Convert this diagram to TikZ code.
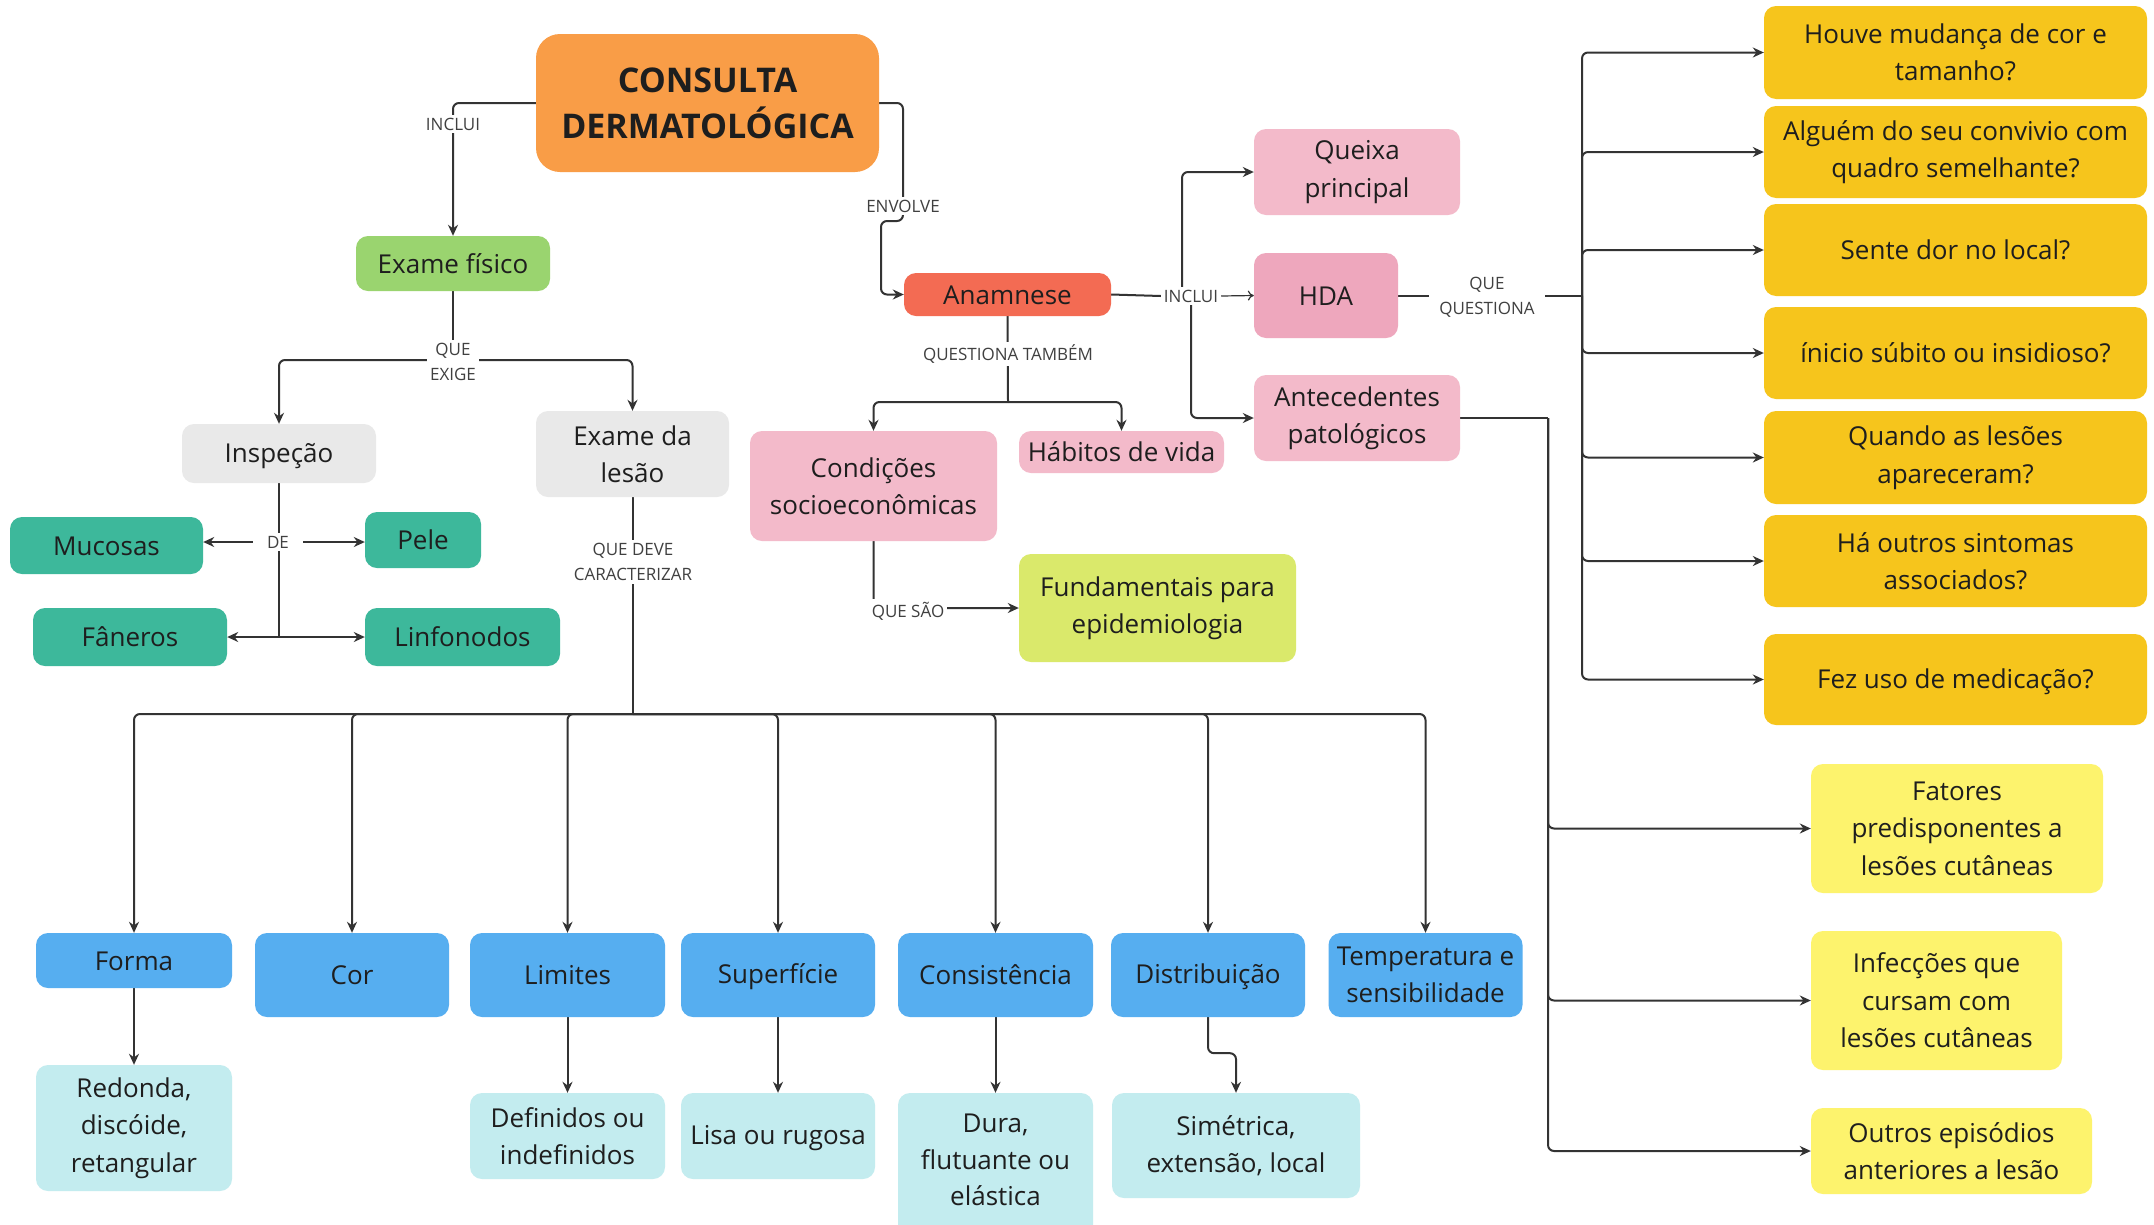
\documentclass[tikz,border=0pt]{standalone}
\usepackage{fontspec}
\setmainfont{Open Sans}
\usetikzlibrary{arrows.meta,calc}

\definecolor{cOrange}{HTML}{F99D47}
\definecolor{cGreen}{HTML}{9AD46F}
\definecolor{cGray}{HTML}{E9E9E9}
\definecolor{cTeal}{HTML}{3DB89B}
\definecolor{cAnam}{HTML}{F36B53}
\definecolor{cPinkL}{HTML}{F3BACA}
\definecolor{cPinkD}{HTML}{EEA7BD}
\definecolor{cLime}{HTML}{DAE96B}
\definecolor{cGold}{HTML}{F6C51C}
\definecolor{cLYel}{HTML}{FDF36D}
\definecolor{cBlue}{HTML}{56AEF0}
\definecolor{cCyan}{HTML}{C3ECEF}
\definecolor{cLine}{HTML}{333333}
\definecolor{cInk}{HTML}{1E1E1E}
\definecolor{cLbl}{HTML}{404040}

\pgfdeclarelayer{paper}
\pgfdeclarelayer{bg}
\pgfsetlayers{paper,bg,main}

% invisible strut that fixes the vertical placement of one-line box texts
\newcommand\bxstrut{\rule[-5pt]{0pt}{29pt}}

\tikzset{
  box/.style={rounded corners=12pt, inner sep=4pt, align=center,
    font=\fontsize{26}{37.5}\selectfont, text=cInk,
    execute at begin node=\bxstrut, execute at end node=\bxstrut},
  boxtext/.style={inner sep=0pt, align=center,
    font=\fontsize{26}{37.5}\selectfont, text=cInk},
  lbl/.style={fill=white, inner sep=3pt, align=center,
    font=\fontsize{17}{25}\selectfont, text=cLbl},
  wire/.style={draw=cLine, line width=2pt, rounded corners=6pt},
  conn/.style={wire, -{Stealth[length=11pt,width=10pt]}},
  thinarrow/.style={draw=cLine, line width=1.2pt, -{To[length=6pt,width=10pt]}},
}

% a box whose text runs over several lines: the shape, then its text centred on it
\newcommand\mlnode[4]{%
  \node[box,#1] (#2) at #3 {};
  \node[boxtext] (#2-t) at (#2.center) {#4};}

\begin{document}
\begin{tikzpicture}[x=1pt,y=-1pt]
\begin{pgfonlayer}{paper}
\fill[white] (0,0) rectangle (2154,1224);
\end{pgfonlayer}
\useasboundingbox (0,0) rectangle (2154,1224);

% ---------- central node ----------
\node[box, fill=cOrange, rounded corners=24pt, minimum width=343pt, minimum height=138pt] (cons) at (707.5,103) {};
\node[boxtext, font=\fontsize{34}{46}\selectfont\bfseries] (cons-t) at (cons.center) {CONSULTA\\DERMATOLÓGICA};

% ---------- physical examination branch ----------
\node[box, fill=cGreen, minimum width=194pt, minimum height=55pt] (exf) at (453,263.5) {Exame físico};
\node[box, fill=cGray, minimum width=194pt, minimum height=59pt] (insp) at (279,453.5) {Inspeção};
\mlnode{fill=cGray, minimum width=193pt, minimum height=86pt}{exl}{(632.5,454)}{Exame da\\lesão}
\node[box, fill=cTeal, minimum width=193pt, minimum height=57pt] (muc) at (106.5,545.5) {Mucosas};
\node[box, fill=cTeal, minimum width=116pt, minimum height=56pt] (pele) at (423,540) {Pele};
\node[box, fill=cTeal, minimum width=194pt, minimum height=58pt] (fan) at (130,637) {Fâneros};
\node[box, fill=cTeal, minimum width=195pt, minimum height=58pt] (linf) at (462.5,637) {Linfonodos};

% lesion characteristics
\node[box, fill=cBlue, minimum width=196pt, minimum height=55pt] (forma) at (134,960.5) {Forma};
\node[box, fill=cBlue, minimum width=194pt, minimum height=84pt] (cor) at (352,975) {Cor};
\node[box, fill=cBlue, minimum width=195pt, minimum height=84pt] (lim) at (567.5,975) {Limites};
\node[box, fill=cBlue, minimum width=194pt, minimum height=84pt] (sup) at (778,975) {Superfície};
\node[box, fill=cBlue, minimum width=195pt, minimum height=84pt] (cons2) at (995.5,975) {Consistência};
\node[box, fill=cBlue, minimum width=194pt, minimum height=84pt] (dist) at (1208,975) {Distribuição};
\mlnode{fill=cBlue, minimum width=194pt, minimum height=84pt}{temp}{(1425.5,975)}{Temperatura e\\sensibilidade}

\mlnode{fill=cCyan, minimum width=196pt, minimum height=126pt}{red}{(134,1128)}{Redonda,\\discóide,\\retangular}
\mlnode{fill=cCyan, minimum width=195pt, minimum height=86pt}{def}{(567.5,1136)}{Definidos ou\\indefinidos}
\node[box, fill=cCyan, minimum width=194pt, minimum height=86pt] (lisa) at (778,1136) {Lisa ou rugosa};
\node[box, fill=cCyan, minimum width=195pt, minimum height=147pt] (dura) at (995.5,1166.5) {};
\node[boxtext, font=\fontsize{26}{36.5}\selectfont] (dura-t) at (995.5,1160) {Dura,\\flutuante ou\\elástica};
\mlnode{fill=cCyan, minimum width=248pt, minimum height=105pt}{sim}{(1236,1145.5)}{Simétrica,\\extensão, local}

% ---------- anamnesis branch ----------
\node[box, fill=cAnam, minimum width=207pt, minimum height=43pt] (anam) at (1007.5,294.5) {Anamnese};
\mlnode{fill=cPinkL, minimum width=206pt, minimum height=86pt}{queixa}{(1357,172)}{Queixa\\principal}
\node[box, fill=cPinkD, minimum width=144pt, minimum height=85pt] (hda) at (1326,295.5) {HDA};
\mlnode{fill=cPinkL, minimum width=206pt, minimum height=86pt}{ant}{(1357,418)}{Antecedentes\\patológicos}
\mlnode{fill=cPinkL, minimum width=247pt, minimum height=110pt}{cond}{(873.5,486)}{Condições\\socioeconômicas}
\node[box, fill=cPinkL, minimum width=205pt, minimum height=42pt] (hab) at (1121.5,452) {Hábitos de vida};
\mlnode{fill=cLime, minimum width=277pt, minimum height=108pt}{fund}{(1157.5,608)}{Fundamentais para\\epidemiologia}

% questions about the current illness
\mlnode{fill=cGold, minimum width=383pt, minimum height=93pt}{q1}{(1955.5,52.5)}{Houve mudança de cor e\\tamanho?}
\mlnode{fill=cGold, minimum width=383pt, minimum height=92pt}{q2}{(1955.5,152)}{Alguém do seu convivio com\\quadro semelhante?}
\node[box, fill=cGold, minimum width=383pt, minimum height=92pt] (q3) at (1955.5,250) {Sente dor no local?};
\node[box, fill=cGold, minimum width=383pt, minimum height=92pt] (q4) at (1955.5,353) {ínicio súbito ou insidioso?};
\mlnode{fill=cGold, minimum width=383pt, minimum height=93pt}{q5}{(1955.5,457.5)}{Quando as lesões\\apareceram?}
\mlnode{fill=cGold, minimum width=383pt, minimum height=92pt}{q6}{(1955.5,561)}{Há outros sintomas\\associados?}
\node[box, fill=cGold, minimum width=383pt, minimum height=91pt] (q7) at (1955.5,679.5) {Fez uso de medicação?};

% past history items
\mlnode{fill=cLYel, minimum width=292pt, minimum height=129pt}{f1}{(1957,828.5)}{Fatores\\predisponentes a\\lesões cutâneas}
\mlnode{fill=cLYel, minimum width=251pt, minimum height=139pt}{f2}{(1936.5,1000.5)}{Infecções que\\cursam com\\lesões cutâneas}
\mlnode{fill=cLYel, minimum width=281pt, minimum height=86pt}{f3}{(1951.5,1151)}{Outros episódios\\anteriores a lesão}

% ---------- connector labels ----------
\node[lbl] (lincl) at (453,124) {INCLUI};
\node[lbl] (lenv) at (903,206) {ENVOLVE};
\node[lbl] (linc2) at (1191,296) {INCLUI};
\node[lbl] (lqt) at (1008,354) {QUESTIONA TAMBÉM};
\node[lbl] (lqs) at (908,611) {QUE SÃO};
\node[lbl, inner xsep=10pt] (lqq) at (1487,297) {QUE\\QUESTIONA};
\node[lbl] (lqe) at (453,362) {QUE\\EXIGE};
\node[lbl, inner xsep=14pt] (lde) at (278,542) {DE};
\node[lbl] (lqd) at (633,562) {QUE DEVE\\CARACTERIZAR};

% ---------- connectors ----------
\begin{pgfonlayer}{bg}
\draw[conn] (cons.west) -| (exf.north);
\draw[conn] (cons.east) -| (903,221) -| (881,294.5) -- (anam.west);

\draw[wire] (anam.east) -- (linc2.west);
\draw[thinarrow] (linc2.east) -- (hda.west);
\draw[conn] (1182,296) |- (queixa.west);
\draw[conn] (1191,296) |- (ant.west);

\draw[wire] (anam.south) -- (1008,402) coordinate (qb);
\draw[conn] (qb) -| (cond.north);
\draw[conn] (qb) -| (hab.north);
\draw[conn] (cond.south) |- (fund.west);

\draw[wire] (hda.east) -- (1582,295.5) coordinate (qq);
\foreach \q in {q1,q2,q3,q4,q5,q6,q7} \draw[conn] (qq) |- (\q.west);

\draw[wire] (ant.east) -- (1548,418) coordinate (aq);
\foreach \f in {f1,f2,f3} \draw[conn] (aq) |- (\f.west);

\draw[wire] (exf.south) -- (453,360) coordinate (eb);
\draw[conn] (eb) -| (insp.north);
\draw[conn] (eb) -| (exl.north);

\draw[wire] (insp.south) -- (279,637) coordinate (ib);
\draw[conn] (lde.west) -- (lde.west -| muc.east);
\draw[conn] (lde.east) -- (lde.east -| pele.west);
\draw[conn] (ib) -- (fan.east);
\draw[conn] (ib) -- (linf.west);

\draw[wire] (exl.south) -- (632.5,714) coordinate (lb);
\foreach \b in {forma,cor,lim,sup,cons2,dist,temp} \draw[conn] (lb) -| (\b.north);

\draw[conn] (forma.south) -- (red.north);
\draw[conn] (lim.south) -- (def.north);
\draw[conn] (sup.south) -- (lisa.north);
\draw[conn] (cons2.south) -- (dura.north);
\draw[conn] (dist.south) -- ++(0,36) -| (sim.north);
\end{pgfonlayer}
\end{tikzpicture}
\end{document}
